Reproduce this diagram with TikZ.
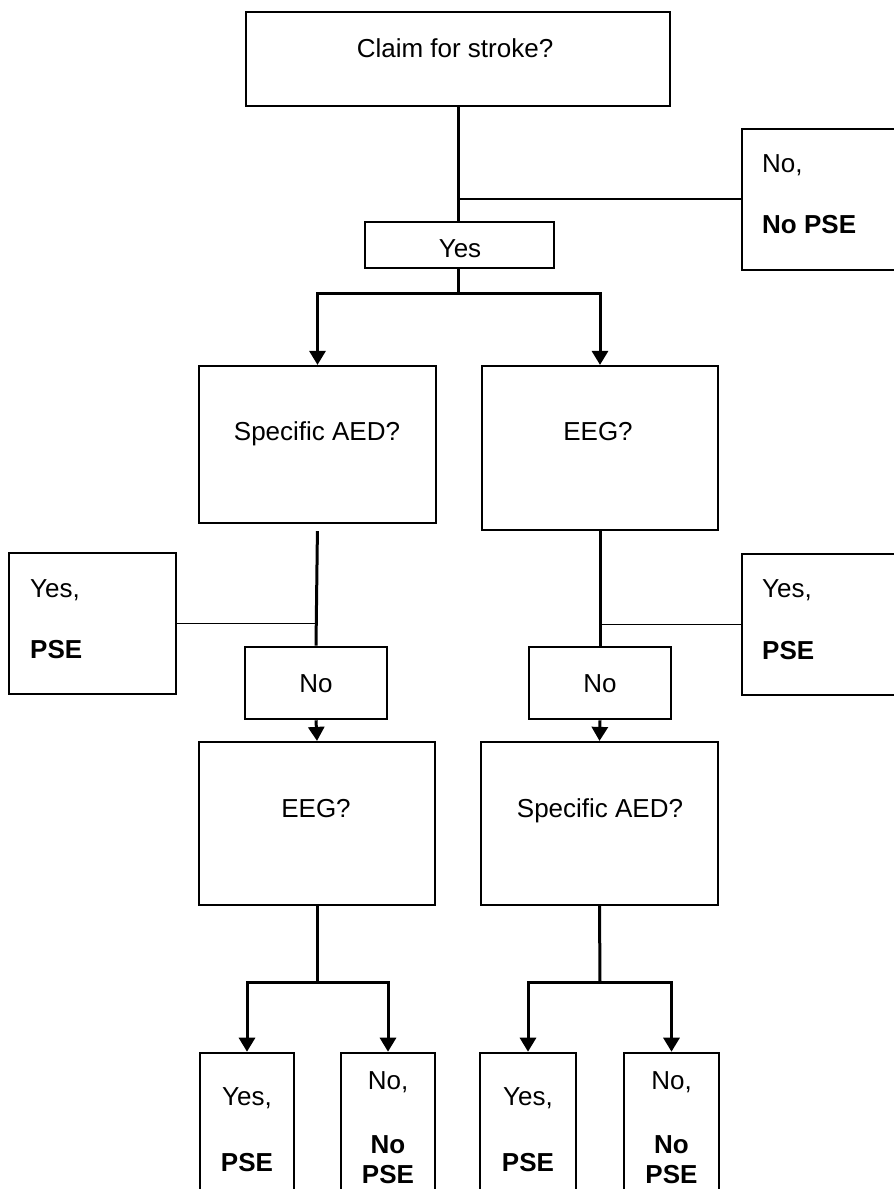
\documentclass[tikz,border=0pt]{standalone}
\usepackage{fontspec}
\setmainfont{Liberation Sans}
\usetikzlibrary{arrows.meta}
\begin{document}
\begin{tikzpicture}[x=1pt,y=-1pt,
  box/.style={draw=black, line width=2.2pt, inner sep=0pt, fill=white},
  sbox/.style={box, line width=2.6pt},
  txt/.style={inner sep=0pt, font=\fontsize{26}{31}\selectfont},
  btxt/.style={inner sep=0pt, font=\fontsize{26}{31}\selectfont\bfseries},
  conn/.style={line width=3pt},
  arr/.style={conn, -{Triangle[length=14pt,width=16pt]}},
  arrs/.style={conn, {Triangle[length=14pt,width=16pt]}-{Triangle[length=14pt,width=16pt]}},
  thinline/.style={line width=1.2pt}]
\useasboundingbox (0,0) rectangle (894,1189);
\clip (0,0) rectangle (894,1189);

% boxes
\node[box, minimum width=424pt, minimum height=94pt] (top) at (458,59) {};
\node[box, minimum width=167pt, minimum height=141pt] (nops) at (825.5,199.5) {};
\node[sbox, minimum width=189pt, minimum height=46pt] (yes) at (459.5,245) {};
\node[box, minimum width=237pt, minimum height=157pt] (aed1) at (317.5,444.5) {};
\node[box, minimum width=236pt, minimum height=164pt] (eeg1) at (600,448) {};
\node[box, minimum width=167pt, minimum height=141pt] (yl) at (92.5,623.5) {};
\node[box, minimum width=167pt, minimum height=141pt] (yr) at (825.5,624.5) {};
\node[sbox, minimum width=142pt, minimum height=72pt] (no1) at (316,683) {};
\node[sbox, minimum width=142pt, minimum height=72pt] (no2) at (600,683) {};
\node[box, minimum width=236pt, minimum height=163pt] (eeg2) at (317,823.5) {};
\node[box, minimum width=237pt, minimum height=163pt] (aed2) at (599.5,823.5) {};
\node[sbox, minimum width=94pt, minimum height=167pt] (r1) at (247,1136.5) {};
\node[sbox, minimum width=94pt, minimum height=167pt] (r2) at (388,1136.5) {};
\node[sbox, minimum width=96pt, minimum height=167pt] (r3) at (528,1136.5) {};
\node[sbox, minimum width=95pt, minimum height=167pt] (r4) at (671.5,1136.5) {};

% texts
\node[txt, anchor=base] (ttop) at (455,57) {Claim for stroke?};
\node[txt, anchor=base west] (tnops1) at (762,172) {No,};
\node[btxt, anchor=base west] (tnops2) at (762,233) {No PSE};
\node[txt, anchor=base] (tyes) at (460,257) {Yes};
\node[txt, anchor=base] (taed1) at (317,440) {Specific AED?};
\node[txt, anchor=base] (teeg1) at (598,440) {EEG?};
\node[txt, anchor=base west] (tyl1) at (30,597) {Yes,};
\node[btxt, anchor=base west] (tyl2) at (30,658) {PSE};
\node[txt, anchor=base west] (tyr1) at (762,597) {Yes,};
\node[btxt, anchor=base west] (tyr2) at (762,659) {PSE};
\node[txt, anchor=base] (tno1) at (316,692) {No};
\node[txt, anchor=base] (tno2) at (600,692) {No};
\node[txt, anchor=base] (teeg2) at (316,817) {EEG?};
\node[txt, anchor=base] (taed2) at (600,817) {Specific AED?};
\node[txt, anchor=base] (tr1a) at (247,1105) {Yes,};
\node[btxt, anchor=base] (tr1b) at (247,1171) {PSE};
\node[txt, anchor=base] (tr2a) at (388,1089) {No,};
\node[btxt, anchor=base] (tr2b) at (388,1153) {No};
\node[btxt, anchor=base] (tr2c) at (388,1183) {PSE};
\node[txt, anchor=base] (tr3a) at (528,1105) {Yes,};
\node[btxt, anchor=base] (tr3b) at (528,1171) {PSE};
\node[txt, anchor=base] (tr4a) at (671.5,1089) {No,};
\node[btxt, anchor=base] (tr4b) at (671.5,1153) {No};
\node[btxt, anchor=base] (tr4c) at (671.5,1183) {PSE};

% junction points
\coordinate (c1) at (458,199);
\coordinate (b1) at (458,293);
\coordinate (b2) at (317,982);
\coordinate (b3) at (600,982);

% connectors
\draw[conn] (top.south) -- (top.south |- yes.north);
\draw[thinline] (c1) -- (c1 -| nops.west);
\draw[conn] (top.south |- yes.south) -- (b1);
\draw[arrs] (aed1.north) |- (b1) -| (eeg1.north);

\draw[conn, shorten <=7pt] (aed1.south) -- (no1.north);
\draw[thinline] (yl.east) -- (yl.east -| no1.north);
\draw[arr] (no1.south) -- (eeg2.north);

\draw[conn] (eeg1.south) -- (no2.north);
\draw[thinline] (yr.west) -- (yr.west -| no2.north);
\draw[arr] (no2.south) -- (aed2.north);

\draw[conn] (eeg2.south) -- (b2);
\draw[arrs] (r1.north) |- (b2) -| (r2.north);
\draw[conn] (aed2.south) -- (b3);
\draw[arrs] (r3.north) |- (b3) -| (r4.north);
\end{tikzpicture}
\end{document}
